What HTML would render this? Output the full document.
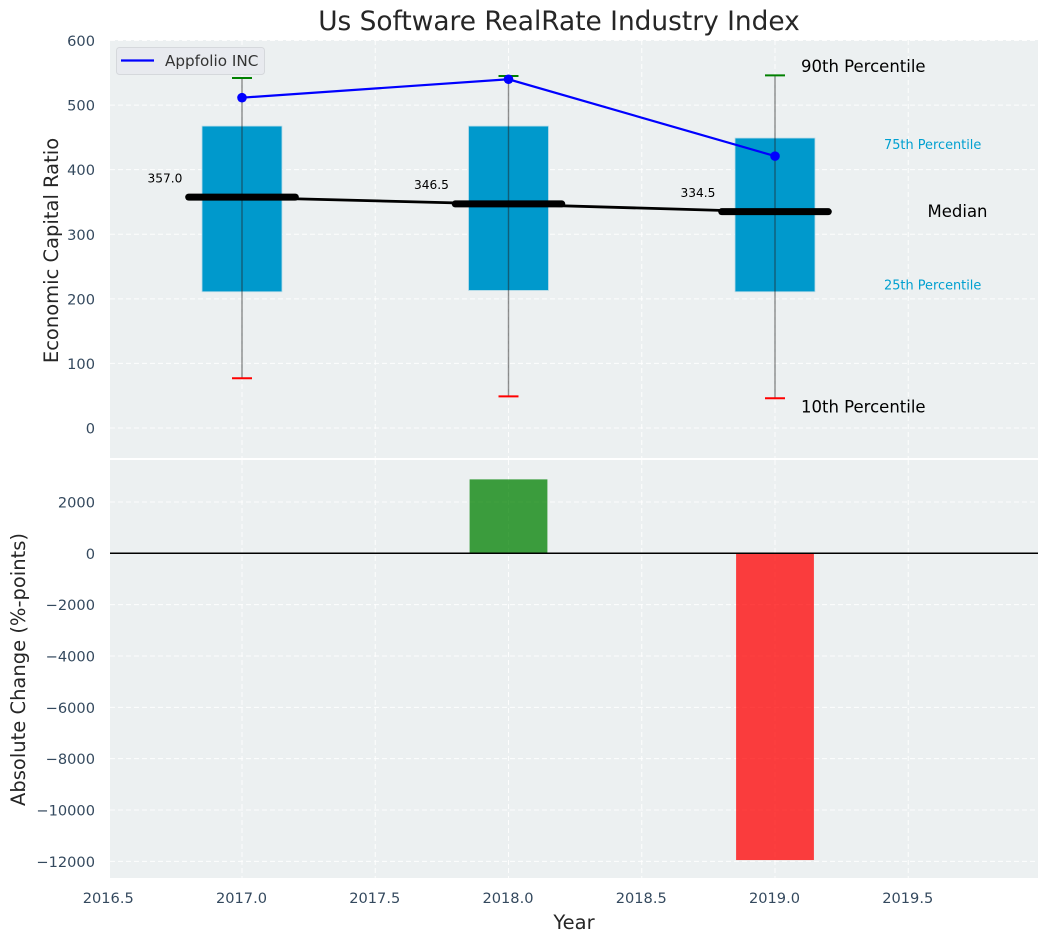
<!DOCTYPE html>
<html>
<head>
<meta charset="utf-8">
<title>Us Software RealRate Industry Index</title>
<style>
html,body{margin:0;padding:0;background:#fff;width:1048px;height:942px;overflow:hidden}
svg{display:block}
text{font-family:"DejaVu Sans","Liberation Sans",sans-serif}
</style>
</head>
<body>
<svg id="chart" width="1048" height="942" viewBox="0 0 1048 942" xmlns="http://www.w3.org/2000/svg">
  <rect x="110" y="40" width="928" height="418" fill="#ecf0f1"/>
  <rect x="110" y="460" width="928" height="418" fill="#ecf0f1"/>
  <g id="grid"></g>
  <g id="marks"></g>
  <g id="labels"></g>
  <text x="559" y="30" font-size="26.4" text-anchor="middle" fill="#262626">Us Software RealRate Industry Index</text>
  <text transform="translate(58,250.5) rotate(-90)" font-size="19.5" text-anchor="middle" fill="#262626">Economic Capital Ratio</text>
  <text transform="translate(25,669.5) rotate(-90)" font-size="19.5" text-anchor="middle" fill="#262626">Absolute Change (%-points)</text>
  <text x="574" y="929" font-size="19.5" text-anchor="middle" fill="#262626">Year</text>
  <g>
    <rect x="116.5" y="47.5" width="148" height="27" rx="3" fill="#e8eaef" stroke="#d5d8dc" stroke-width="1"/>
    <line x1="121" x2="154" y1="60.5" y2="60.5" stroke="#0000ff" stroke-width="2.2"/>
    <text x="165" y="66" font-size="15.2" fill="#333">Appfolio INC</text>
  </g>
</svg>
<script>
const years = [2017, 2018, 2019];
const p90 = [542, 545, 546];
const p75 = [467.5, 467.5, 449];
const medians = [357.0, 346.5, 334.5];
const p25 = [211, 213, 211];
const p10 = [77, 49, 46];
const company = [511.5, 540, 421];
const changes = [0, 2880, -11950];
const xTickValues = [2016.5, 2017, 2017.5, 2018, 2018.5, 2019, 2019.5];
const xTickLabels = ['2016.5', '2017.0', '2017.5', '2018.0', '2018.5', '2019.0', '2019.5'];
const topTickValues = [0, 100, 200, 300, 400, 500, 600];
const topTickLabels = ['0', '100', '200', '300', '400', '500', '600'];
const bottomTickValues = [2000, 0, -2000, -4000, -6000, -8000, -10000, -12000];
const bottomTickLabels = ['2000', '0', '\u22122000', '\u22124000', '\u22126000', '\u22128000', '\u221210000', '\u221212000'];

const PLOT_LEFT = 110, PLOT_RIGHT = 1038;
const TOP_Y0 = 40, TOP_Y1 = 458, BOT_Y0 = 460, BOT_Y1 = 878;
const xScale = v => 242 + (v - 2017) * 266.5;
const yTop = v => 428 - v * 0.6458;
const yBot = v => 553.3 - v * 0.02567;

const NS = 'http://www.w3.org/2000/svg';
const gridG = document.getElementById('grid');
const marksG = document.getElementById('marks');
const labelsG = document.getElementById('labels');
function mk(tag, parent, attrs, txt) {
  const n = document.createElementNS(NS, tag);
  for (const k in attrs) n.setAttribute(k, attrs[k]);
  if (txt !== undefined) n.textContent = txt;
  parent.appendChild(n);
  return n;
}
let el;
const gridStyle = {stroke: '#ffffff', 'stroke-width': 1, 'stroke-dasharray': '5 3', opacity: 0.9};

xTickValues.forEach((v, i) => {
  const x = xScale(v);
  if (x >= PLOT_LEFT) {
    el = mk('line', gridG, Object.assign({x1: x, x2: x, y1: TOP_Y0, y2: TOP_Y1}, gridStyle));
    
    
    el = mk('line', gridG, Object.assign({x1: x, x2: x, y1: BOT_Y0, y2: BOT_Y1}, gridStyle));
    
    
  }
  el = mk('text', labelsG, {x: x - 0.5, y: 903, 'font-size': 14.6, 'text-anchor': 'middle', fill: '#34495e'}, xTickLabels[i]);
  
  
});
topTickValues.forEach((v, i) => {
  const y = yTop(v);
  el = mk('line', gridG, Object.assign({x1: PLOT_LEFT, x2: PLOT_RIGHT, y1: y, y2: y}, gridStyle));
  
  
  el = mk('text', labelsG, {x: 95, y: y + 5.5, 'font-size': 14.6, 'text-anchor': 'end', fill: '#34495e'}, topTickLabels[i]);
  
  
});
bottomTickValues.forEach((v, i) => {
  const y = yBot(v);
  el = mk('line', gridG, Object.assign({x1: PLOT_LEFT, x2: PLOT_RIGHT, y1: y, y2: y}, gridStyle));
  
  
  el = mk('text', labelsG, {x: 95, y: y + 5.5, 'font-size': 14.6, 'text-anchor': 'end', fill: '#34495e'}, bottomTickLabels[i]);
  
  
});

const BOX_HALF = 0.15, CAP_HALF = 0.0375, MED_HALF = 0.2, CHANGE_HALF = 0.146;

years.forEach((yr, i) => {
  el = mk('rect', marksG, {x: xScale(yr - BOX_HALF), width: xScale(yr + BOX_HALF) - xScale(yr - BOX_HALF), y: yTop(p75[i]), height: yTop(p25[i]) - yTop(p75[i]), fill: '#0099cc', stroke: '#b5dbe8', 'stroke-width': 0.8});
  
  
});

el = mk('polyline', marksG, {points: years.map((yr, i) => xScale(yr) + ',' + yTop(medians[i])).join(' '), fill: 'none', stroke: '#000', 'stroke-width': 2.8});



years.forEach((yr, i) => {
  const x = xScale(yr);
  el = mk('line', marksG, {x1: x, x2: x, y1: yTop(p90[i]), y2: yTop(p10[i]), stroke: '#222', 'stroke-opacity': 0.5, 'stroke-width': 1.4});
  
  
  el = mk('line', marksG, {x1: xScale(yr - CAP_HALF), x2: xScale(yr + CAP_HALF), y1: yTop(p90[i]), y2: yTop(p90[i]), stroke: '#008000', 'stroke-width': 2});
  
  
  el = mk('line', marksG, {x1: xScale(yr - CAP_HALF), x2: xScale(yr + CAP_HALF), y1: yTop(p10[i]), y2: yTop(p10[i]), stroke: '#ff0000', 'stroke-width': 2});
  
  
  el = mk('line', marksG, {x1: xScale(yr - MED_HALF), x2: xScale(yr + MED_HALF), y1: yTop(medians[i]) - 0.3, y2: yTop(medians[i]) - 0.3, stroke: '#000', 'stroke-width': 7, 'stroke-linecap': 'round'});
  
  
  el = mk('text', marksG, {x: x - 94.5, y: yTop(medians[i]) - 15, 'font-size': 12.2, fill: '#000'}, medians[i].toFixed(1));
  
  
});

el = mk('polyline', marksG, {points: years.map((yr, i) => xScale(yr) + ',' + yTop(company[i])).join(' '), fill: 'none', stroke: '#0000ff', 'stroke-width': 2.2});


years.forEach((yr, i) => {
  el = mk('circle', marksG, {cx: xScale(yr), cy: yTop(company[i]), r: 4.8, fill: '#0000ff'});
  
  
});

const last = years.length - 1;
const lastX = xScale(years[last]);
el = mk('text', marksG, {x: lastX + 26, y: yTop(p90[last]) - 3.5, 'font-size': 16.5, fill: '#000'}, '90th Percentile');


el = mk('text', marksG, {x: lastX + 109, y: yTop(p75[last]) + 11, 'font-size': 12.9, fill: '#00a0d0'}, '75th Percentile');


el = mk('text', marksG, {x: lastX + 152.5, y: yTop(medians[last]) + 5, 'font-size': 16.5, fill: '#000'}, 'Median');


el = mk('text', marksG, {x: lastX + 109, y: yTop(p25[last]) - 2, 'font-size': 12.9, fill: '#00a0d0'}, '25th Percentile');


el = mk('text', marksG, {x: lastX + 26, y: yTop(p10[last]) + 14, 'font-size': 16.5, fill: '#000'}, '10th Percentile');



years.forEach((yr, i) => {
  if (changes[i] === 0) return;
  const a = yBot(Math.max(changes[i], 0)), b = yBot(Math.min(changes[i], 0));
  el = mk('rect', marksG, {x: xScale(yr - CHANGE_HALF), width: xScale(yr + CHANGE_HALF) - xScale(yr - CHANGE_HALF), y: a, height: b - a, fill: changes[i] > 0 ? '#008000' : '#ff0000', 'fill-opacity': 0.75});
  
  
});

el = mk('line', marksG, {x1: PLOT_LEFT, x2: PLOT_RIGHT, y1: yBot(0), y2: yBot(0), stroke: '#000', 'stroke-width': 1.5});


</script>
</body>
</html>
